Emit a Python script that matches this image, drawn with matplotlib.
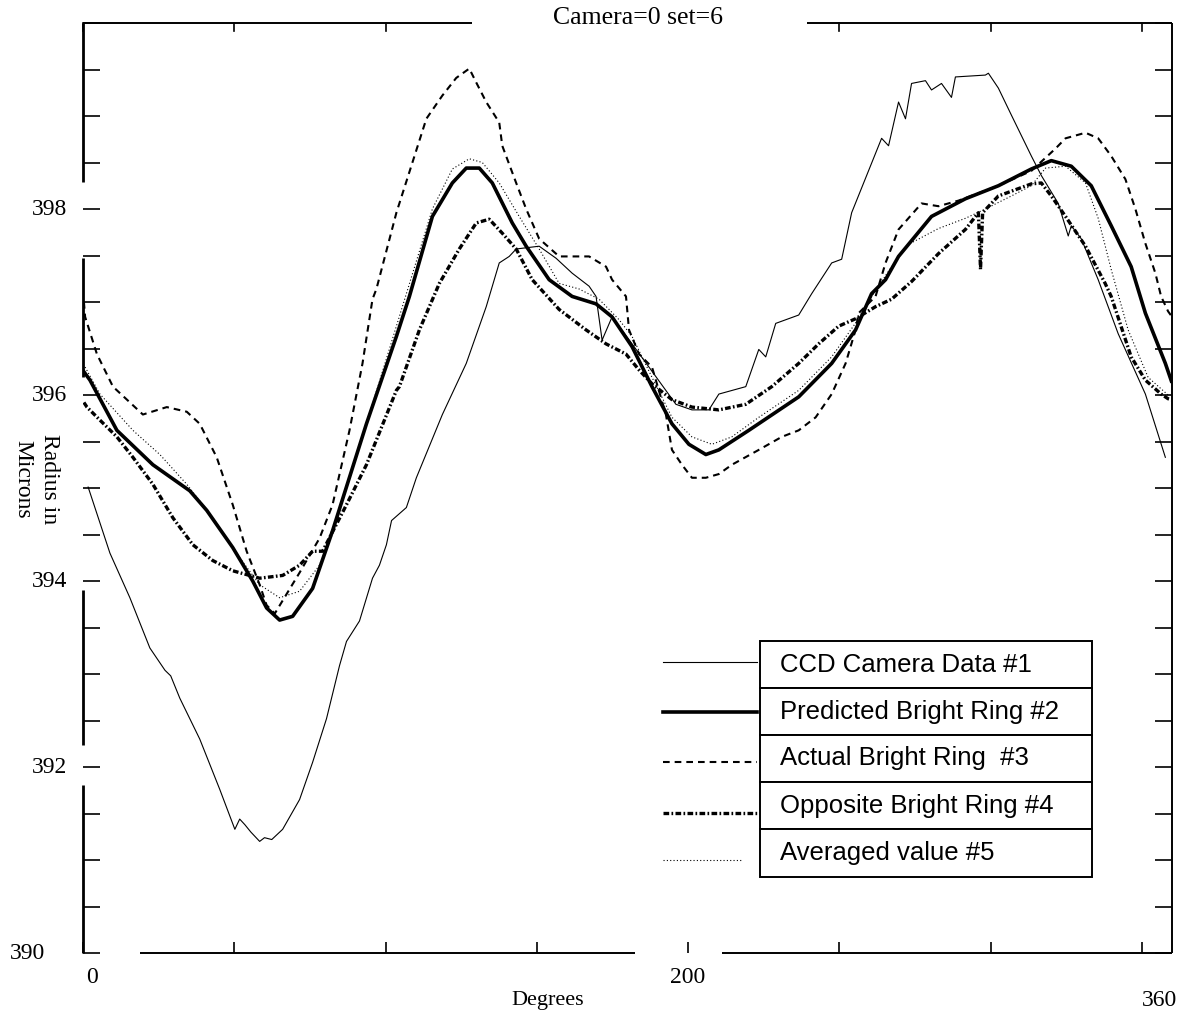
import matplotlib
matplotlib.use("Agg")
import matplotlib.pyplot as plt
from matplotlib.lines import Line2D
from matplotlib.patches import Rectangle
from matplotlib.transforms import blended_transform_factory
import numpy as np

# ---------------- data ----------------
ccd_x = [1.7, 8.9, 15.5, 22.1, 27.1, 29.0, 32.0, 38.6, 45.2, 50.2, 51.8, 53.5, 55.5, 58.4, 60.0, 62.4, 66.0,
         71.6, 75.9, 80.5, 84.8, 87.1, 91.4, 95.7, 98.0, 100.3, 102.0, 106.9, 110.2, 118.8, 126.7, 133.3,
         137.6, 140.9, 143.2, 150.8, 156.4, 161.7, 167.3, 169.6, 171.6, 174.9, 181.5, 187.1, 196.0, 201.3,
         206.9, 210.2, 219.1, 223.4, 225.7, 229.0, 236.6, 240.9, 247.5, 250.8, 254.1, 264.0, 266.3, 269.6,
         271.9, 273.9, 278.5, 280.5, 283.8, 287.1, 288.4, 298.3, 299.3, 302.6, 306.9, 313.5, 316.8, 322.4,
         325.7, 326.7, 330.0, 335.6, 342.2, 351.2, 357.8]
ccd_y = [395.01, 394.30, 393.82, 393.28, 393.04, 392.98, 392.74, 392.30, 391.76, 391.33, 391.44, 391.38,
         391.30, 391.20, 391.24, 391.22, 391.33, 391.65, 392.05, 392.52, 393.09, 393.35, 393.57, 394.03,
         394.17, 394.39, 394.65, 394.79, 395.11, 395.79, 396.34, 396.95, 397.42, 397.49, 397.57, 397.60,
         397.47, 397.31, 397.17, 397.06, 396.59, 396.84, 396.55, 396.30, 395.90, 395.84, 395.84, 396.01,
         396.09, 396.49, 396.41, 396.77, 396.86, 397.09, 397.42, 397.46, 397.96, 398.76, 398.68, 399.15,
         398.97, 399.35, 399.38, 399.28, 399.35, 399.20, 399.42, 399.44, 399.46, 399.30, 399.01, 398.57,
         398.36, 398.06, 397.71, 397.82, 397.68, 397.24, 396.66, 396.01, 395.33]

pred_x = [0.3, 2.3, 11.2, 23.1, 35.3, 40.9, 49.5, 56.1, 60.7, 65.0, 69.3, 75.9, 82.5, 93.7, 103.6, 107.9,
          115.5, 122.1, 126.7, 131.0, 135.3, 141.9, 146.5, 154.1, 161.7, 169.6, 174.9, 181.5, 188.1, 194.7,
          200.3, 205.9, 210.2, 220.1, 236.6, 247.5, 255.4, 260.7, 265.3, 269.6, 280.5, 291.7, 302.6, 313.5,
          320.1, 326.7, 333.3, 339.9, 346.5, 351.2, 357.8, 359.8]
pred_y = [396.25, 396.16, 395.62, 395.25, 394.97, 394.76, 394.36, 394.00, 393.71, 393.58, 393.62, 393.92,
          394.54, 395.69, 396.63, 397.06, 397.92, 398.28, 398.44, 398.44, 398.28, 397.85, 397.60, 397.24,
          397.06, 396.98, 396.84, 396.52, 396.09, 395.69, 395.47, 395.36, 395.41, 395.62, 395.98, 396.34,
          396.70, 397.09, 397.24, 397.49, 397.92, 398.11, 398.25, 398.43, 398.52, 398.46, 398.25, 397.82,
          397.38, 396.88, 396.34, 396.15]

act_x = [0.3, 0.7, 4.6, 9.9, 19.8, 27.7, 34.3, 38.6, 44.2, 49.5, 54.1, 58.4, 60.7, 63.4, 71.6, 78.2, 82.5,
         88.1, 92.4, 95.7, 97.0, 103.6, 108.9, 113.5, 118.8, 123.4, 127.7, 130.0, 133.3, 137.6, 138.6,
         143.2, 146.5, 150.8, 157.4, 167.3, 172.9, 174.9, 179.5, 180.5, 183.8, 188.1, 192.7, 194.7, 198.0,
         201.3, 205.9, 210.2, 214.5, 223.4, 231.0, 236.6, 242.2, 247.5, 252.1, 255.4, 256.4, 262.0, 265.3,
         269.6, 277.2, 282.8, 289.4, 302.6, 313.5, 321.5, 324.8, 331.4, 335.6, 339.9, 344.6, 347.9, 351.2,
         354.5, 356.4, 358.7, 359.8]
act_y = [397.00, 396.84, 396.44, 396.09, 395.79, 395.87, 395.82, 395.69, 395.33, 394.82, 394.32, 393.96,
         393.74, 393.65, 394.09, 394.46, 394.82, 395.62, 396.34, 397.03, 397.14, 397.96, 398.50, 398.97,
         399.22, 399.41, 399.51, 399.36, 399.15, 398.93, 398.68, 398.28, 398.00, 397.68, 397.49, 397.49,
         397.38, 397.24, 397.06, 396.70, 396.44, 396.30, 395.79, 395.41, 395.25, 395.11, 395.11, 395.15,
         395.25, 395.41, 395.55, 395.62, 395.76, 396.01, 396.34, 396.70, 396.88, 397.06, 397.42, 397.78,
         398.06, 398.03, 398.09, 398.25, 398.41, 398.65, 398.76, 398.82, 398.76, 398.57, 398.32, 398.00,
         397.63, 397.31, 397.06, 396.90, 396.85]

opp_x = [0.3, 1.3, 5.6, 11.2, 16.5, 23.1, 29.7, 36.3, 42.9, 49.5, 58.4, 66.0, 71.6, 75.9, 79.2, 87.1, 93.7,
         103.6, 104.6, 111.2, 117.8, 124.4, 130.0, 134.3, 138.6, 143.2, 148.5, 157.4, 166.3, 172.9, 179.5,
         183.8, 188.1, 194.7, 201.3, 210.2, 219.1, 227.7, 236.6, 243.2, 249.8, 255.4, 262.0, 267.3, 273.9,
         282.8, 291.7, 296.0, 296.7, 297.4, 302.6, 313.5, 316.8, 320.1, 324.8, 331.4, 337.9, 339.9, 346.5,
         351.2, 356.4, 358.7, 359.8]
opp_y = [395.92, 395.87, 395.73, 395.55, 395.33, 395.04, 394.68, 394.39, 394.22, 394.11, 394.03, 394.06,
         394.17, 394.32, 394.32, 394.82, 395.25, 396.05, 396.09, 396.70, 397.20, 397.57, 397.85, 397.89,
         397.74, 397.57, 397.24, 396.92, 396.70, 396.55, 396.44, 396.27, 396.12, 395.95, 395.87, 395.84,
         395.90, 396.09, 396.34, 396.55, 396.74, 396.82, 396.95, 397.03, 397.22, 397.52, 397.78, 397.96,
         397.35, 397.96, 398.14, 398.27, 398.28, 398.14, 397.92, 397.60, 397.20, 397.06, 396.41, 396.16,
         396.01, 395.96, 395.95]

avg_x = [0.7, 5.6, 16.5, 25.4, 34.3, 42.9, 51.8, 58.4, 65.0, 71.6, 78.2, 84.8, 93.7, 103.6, 115.5, 122.1,
         127.7, 132.0, 137.6, 144.2, 150.8, 157.4, 164.0, 170.6, 177.2, 181.5, 188.1, 194.7, 201.3, 207.9,
         214.5, 223.4, 236.6, 247.5, 256.4, 260.7, 267.3, 272.9, 282.8, 291.7, 298.3, 306.9, 313.5, 318.2,
         324.8, 331.4, 335.6, 339.9, 345.5, 352.1, 358.7]
avg_y = [396.30, 396.01, 395.62, 395.36, 395.04, 394.68, 394.25, 393.96, 393.82, 393.89, 394.17, 394.76,
         395.69, 396.74, 398.00, 398.43, 398.54, 398.50, 398.28, 397.92, 397.57, 397.20, 397.14, 397.03,
         396.81, 396.63, 396.19, 395.76, 395.55, 395.47, 395.55, 395.76, 396.05, 396.41, 396.82, 397.06,
         397.38, 397.62, 397.79, 397.90, 398.00, 398.14, 398.25, 398.44, 398.46, 398.28, 397.90, 397.35,
         396.70, 396.19, 396.00]

series_names = ["CCD Camera Data #1", "Predicted Bright Ring #2", "Actual Bright Ring  #3",
                "Opposite Bright Ring #4", "Averaged value #5"]
y_tick_labels = [390, 392, 394, 396, 398]
x_tick_labels = [0, 200, 360]
title = "Camera=0 set=6"

# ---------------- figure ----------------
W, H = 1185, 1013
fig = plt.figure(figsize=(W / 100, H / 100), dpi=100)
fig.patch.set_facecolor("white")
AX_L, AX_R, AX_T, AX_B = 83, 1172, 23, 953
ax = fig.add_axes([AX_L / W, 1 - AX_B / H, (AX_R - AX_L) / W, (AX_B - AX_T) / H])
ax.set_xlim(0, 360)
ax.set_ylim(390, 400)

serif = ["Liberation Serif", "DejaVu Serif"]
sans = ["Liberation Sans", "DejaVu Sans"]

styles = [
    dict(color="black", lw=0.8, ls="-"),
    dict(color="black", lw=2.6, ls="-"),
    dict(color="black", lw=1.5, ls=(0, (3.2, 2.4))),
    dict(color="black", lw=2.4, ls=(0, (1.7, 0.7, 0.5, 0.7))),
    dict(color="black", lw=0.8, ls=(0, (1, 2))),
]
data = [(ccd_x, ccd_y), (pred_x, pred_y), (act_x, act_y), (opp_x, opp_y), (avg_x, avg_y)]
for (xs, ys), st in zip(data, styles):
    ax.plot(xs, ys, **st)

# ticks (inward), no automatic labels; top ticks drawn by hand (gap under title)
ax.set_xticks(np.arange(0, 361, 50))
ax.set_yticks(np.arange(390, 400.01, 0.5))
ax.tick_params(axis="both", direction="in", labelleft=False, labelbottom=False,
               top=False, right=True, width=1.2, color="black")
ax.tick_params(axis="y", length=12)
ax.tick_params(axis="x", length=8)
for sp in ax.spines.values():
    sp.set_visible(False)

tr_top = blended_transform_factory(ax.transData, fig.transFigure)
for xt in [0, 50, 100, 250, 300, 350]:
    ax.add_line(Line2D([xt, xt], [1 - AX_T / H, 1 - (AX_T + 8) / H], transform=tr_top,
                       color="black", lw=1.2, clip_on=False))


def seg(x0, y0, x1, y1, lw=1.4):
    fig.add_artist(Line2D([x0 / W, x1 / W], [1 - y0 / H, 1 - y1 / H], transform=fig.transFigure,
                          color="black", lw=lw, solid_capstyle="butt"))


# frame, with the gaps seen in the reference
seg(AX_L, AX_T, 472, AX_T)
seg(807, AX_T, AX_R, AX_T)
seg(140, AX_B, 635, AX_B)
seg(722, AX_B, AX_R, AX_B)
seg(AX_R, AX_T, AX_R, AX_B)
for y0, y1 in [(AX_T, 182), (258, 377), (590, 745), (785, AX_B)]:
    seg(AX_L, y0, AX_L, y1, lw=2.0)

# tick labels as placed in the reference
tr_y = blended_transform_factory(fig.transFigure, ax.transData)
for v in y_tick_labels:
    xr = 67 if v != 390 else 45
    ax.text(xr / W, v, str(v), transform=tr_y, ha="right", va="center",
            fontsize=17, family=serif)
tr_x = blended_transform_factory(ax.transData, fig.transFigure)
xlab_y = {0: 977, 200: 977, 360: 1000}
for v in x_tick_labels:
    xx = v + (3 if v == 0 else 0) - (4 if v == 360 else 0)
    ax.text(xx, 1 - xlab_y[v] / H, str(v), transform=tr_x, ha="center", va="center",
            fontsize=17, family=serif)

fig.text(548 / W, 1 - 1000 / H, "Degrees", ha="center", va="center", fontsize=16, family=serif)
fig.text(638 / W, 1 - 18 / H, title, ha="center", va="center", fontsize=18.5, family=serif)
fig.text(36 / W, 1 - 479 / H, "Radius in\nMicrons", ha="center", va="center", rotation=-90,
         fontsize=17, family=serif, linespacing=1.35)

# legend box (table style, right side)
box_left, box_right = 760, 1092
row_edges = [641, 688, 735, 782, 829, 877]
line_y = [662, 712, 762, 813, 860]
for i, name in enumerate(series_names):
    top, bot = row_edges[i], row_edges[i + 1]
    fig.add_artist(Rectangle((box_left / W, 1 - bot / H), (box_right - box_left) / W, (bot - top) / H,
                             transform=fig.transFigure, facecolor="white", edgecolor="black", lw=1.4))
    fig.text(780 / W, 1 - (top + bot) / 2 / H, name, ha="left", va="center", fontsize=18.5, family=sans)
    x_end = 757 if i != 4 else 742
    st = dict(styles[i])
    fig.add_artist(Line2D([663 / W, x_end / W], [1 - line_y[i] / H] * 2, transform=fig.transFigure,
                          color=st["color"], lw=st["lw"], ls=st["ls"]))

fig.savefig("out.png", dpi=100, facecolor="white")
